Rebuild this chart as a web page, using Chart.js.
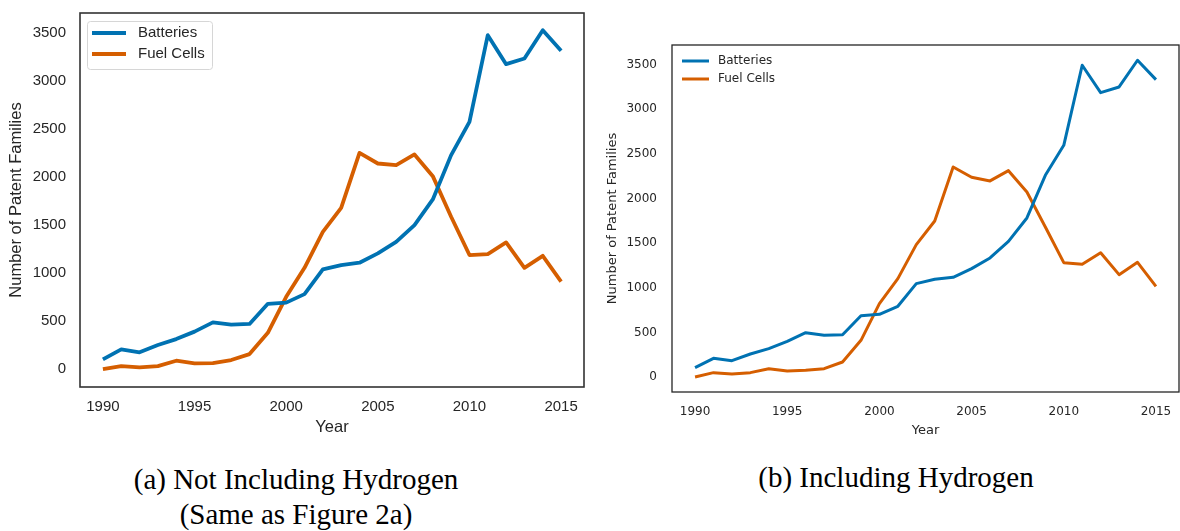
<!DOCTYPE html>
<html>
<head>
<meta charset="utf-8">
<script src="https://cdn.jsdelivr.net/npm/chart.js@4.4.1/dist/chart.umd.min.js"></script>
<style>
  html, body { margin: 0; padding: 0; background: #fff; }
  body { width: 1180px; height: 531px; position: relative; overflow: hidden; }
  canvas { position: absolute; top: 0; }
  #chartA { left: 0; }
  #chartB { left: 600px; }
  .caption {
    position: absolute;
    width: 400px;
    font-family: "Liberation Serif", "Times New Roman", serif;
    font-size: 29px;
    line-height: 35px;
    color: #000;
    text-align: center;
  }
</style>
</head>
<body>
<canvas id="chartA" width="600" height="440"></canvas>
<canvas id="chartB" width="580" height="440"></canvas>
<div class="caption" style="left:96px; top:462px;">(a) Not Including Hydrogen<br>(Same as Figure 2a)</div>
<div class="caption" style="left:696px; top:460px;">(b) Including Hydrogen</div>

<script>
const years = [1990, 1991, 1992, 1993, 1994, 1995, 1996, 1997, 1998, 1999, 2000, 2001, 2002,
  2003, 2004, 2005, 2006, 2007, 2008, 2009, 2010, 2011, 2012, 2013, 2014, 2015];

// (a) not including hydrogen
const batteriesExcl = [100, 205, 175, 250, 312, 390, 486, 462, 470, 680, 692, 781, 1038,
  1083, 1108, 1205, 1326, 1500, 1767, 2229, 2576, 3479, 3177, 3236, 3531, 3316];
const fuelCellsExcl = [0, 31, 17, 31, 87, 59, 62, 94, 156, 378, 753, 1055, 1430,
  1680, 2253, 2142, 2125, 2236, 2010, 1587, 1188, 1198, 1319, 1055, 1180, 910];

// (b) including hydrogen
const batteriesIncl = [105, 209, 183, 258, 318, 400, 497, 467, 474, 687, 702, 792, 1046,
  1095, 1117, 1214, 1334, 1520, 1782, 2260, 2596, 3493, 3186, 3250, 3549, 3332];
const fuelCellsIncl = [0, 49, 34, 49, 93, 67, 75, 93, 168, 411, 822, 1102, 1483,
  1748, 2353, 2238, 2197, 2312, 2073, 1681, 1281, 1263, 1393, 1147, 1285, 1016];

const seriesNames = ['Batteries', 'Fuel Cells'];
const seriesColors = ['#0072b2', '#d55e00'];
const yearTicks = [1990, 1995, 2000, 2005, 2010, 2015];
const countTicks = [0, 500, 1000, 1500, 2000, 2500, 3000, 3500];
const xTitle = 'Year';
const yTitle = 'Number of Patent Families';

// box around the plotting area, like matplotlib spines
const framePlugin = {
  id: 'frame',
  afterDatasetsDraw(chart, args, opts) {
    const a = chart.chartArea;
    const ctx = chart.ctx;
    ctx.save();
    ctx.strokeStyle = opts.color;
    ctx.lineWidth = opts.width;
    ctx.strokeRect(a.left, a.top, a.right - a.left, a.bottom - a.top);
    ctx.restore();
  }
};

// legend drawn inside the axes, upper left
const insideLegend = {
  id: 'insideLegend',
  afterDraw(chart, args, opts) {
    const ctx = chart.ctx;
    ctx.save();
    if (opts.box) {
      const b = opts.box;
      ctx.beginPath();
      ctx.roundRect(b.x, b.y, b.w, b.h, 3);
      ctx.fillStyle = 'rgba(255,255,255,0.8)';
      ctx.fill();
      ctx.strokeStyle = '#d6d6d6';
      ctx.lineWidth = 1;
      ctx.stroke();
    }
    ctx.font = opts.font;
    ctx.textBaseline = 'middle';
    ctx.fillStyle = '#262626';
    chart.data.datasets.forEach((ds, i) => {
      const y = opts.rows[i];
      ctx.beginPath();
      ctx.moveTo(opts.x0, y);
      ctx.lineTo(opts.x1, y);
      ctx.strokeStyle = ds.borderColor;
      ctx.lineWidth = ds.borderWidth;
      ctx.lineCap = 'butt';
      ctx.stroke();
      ctx.fillText(ds.label, opts.textX, y);
    });
    ctx.restore();
  }
};

function makeChart(id, batteries, fuelCells, s) {
  const series = [batteries, fuelCells];
  const datasets = series.map((vals, i) => ({
    label: seriesNames[i],
    data: years.map((yr, j) => ({ x: yr, y: vals[j] })),
    borderColor: seriesColors[i],
    backgroundColor: seriesColors[i],
    borderWidth: s.lineWidth,
    borderJoinStyle: 'round',
    pointRadius: 0,
    tension: 0,
    fill: false
  }));

  const tickFont = { family: s.family, size: s.tickSize };

  return new Chart(document.getElementById(id), {
    type: 'line',
    data: { datasets: datasets },
    options: {
      responsive: false,
      animation: false,
      devicePixelRatio: 1,
      layout: { padding: { left: 0, right: s.padRight, top: s.padTop, bottom: 0 } },
      plugins: {
        legend: { display: false },
        tooltip: { enabled: false },
        frame: { color: s.frameColor, width: s.frameWidth },
        insideLegend: s.legend
      },
      scales: {
        x: {
          type: 'linear',
          min: 1988.75,
          max: 2016.25,
          grid: { display: false, drawTicks: false },
          border: { display: false },
          afterBuildTicks: scale => { scale.ticks = yearTicks.map(v => ({ value: v })); },
          afterFit: scale => {
            scale.height = s.xAxisHeight;
            scale.paddingLeft = 0;
            scale.paddingRight = 0;
          },
          ticks: {
            autoSkip: false,
            maxRotation: 0,
            padding: s.xTickPad,
            color: '#262626',
            font: tickFont,
            callback: v => String(v)
          },
          title: {
            display: true,
            text: xTitle,
            color: '#262626',
            font: { family: s.family, size: s.titleSize },
            padding: { top: 0, bottom: s.xTitlePad }
          }
        },
        y: {
          min: s.yMin,
          max: s.yMax,
          grid: { display: false, drawTicks: false },
          border: { display: false },
          afterBuildTicks: scale => { scale.ticks = countTicks.map(v => ({ value: v })); },
          afterFit: scale => {
            scale.width = s.yAxisWidth;
            scale.paddingTop = 0;
            scale.paddingBottom = 0;
          },
          ticks: {
            padding: s.yTickPad,
            color: '#262626',
            font: tickFont,
            callback: v => String(v)
          },
          title: {
            display: true,
            text: yTitle,
            color: '#262626',
            font: { family: s.family, size: s.titleSize },
            padding: { top: s.yTitlePad, bottom: 0 }
          }
        }
      }
    },
    plugins: [framePlugin, insideLegend]
  });
}

makeChart('chartA', batteriesExcl, fuelCellsExcl, {
  family: '"Liberation Sans", Arial, sans-serif',
  tickSize: 15,
  titleSize: 16.5,
  lineWidth: 3.8,
  padTop: 13,
  padRight: 16,
  xAxisHeight: 53,
  yAxisWidth: 80,
  xTickPad: 11,
  yTickPad: 14,
  xTitlePad: 3,
  yTitlePad: 7,
  yMin: -187,
  yMax: 3710,
  frameColor: '#333333',
  frameWidth: 1.6,
  legend: {
    box: { x: 87.5, y: 21.5, w: 125, h: 48 },
    x0: 92, x1: 126, textX: 138,
    rows: [33, 54],
    font: '15px "Liberation Sans", Arial, sans-serif'
  }
});

makeChart('chartB', batteriesIncl, fuelCellsIncl, {
  family: '"DejaVu Sans", sans-serif',
  tickSize: 12,
  titleSize: 13,
  lineWidth: 3,
  padTop: 45,
  padRight: 1,
  xAxisHeight: 48,
  yAxisWidth: 72,
  xTickPad: 13,
  yTickPad: 15,
  xTitlePad: 2,
  yTitlePad: 5,
  yMin: -168,
  yMax: 3720,
  frameColor: '#262626',
  frameWidth: 1.3,
  legend: {
    box: null,
    x0: 82, x1: 109, textX: 118,
    rows: [61, 79],
    font: '12px "DejaVu Sans", sans-serif'
  }
});
</script>
</body>
</html>
